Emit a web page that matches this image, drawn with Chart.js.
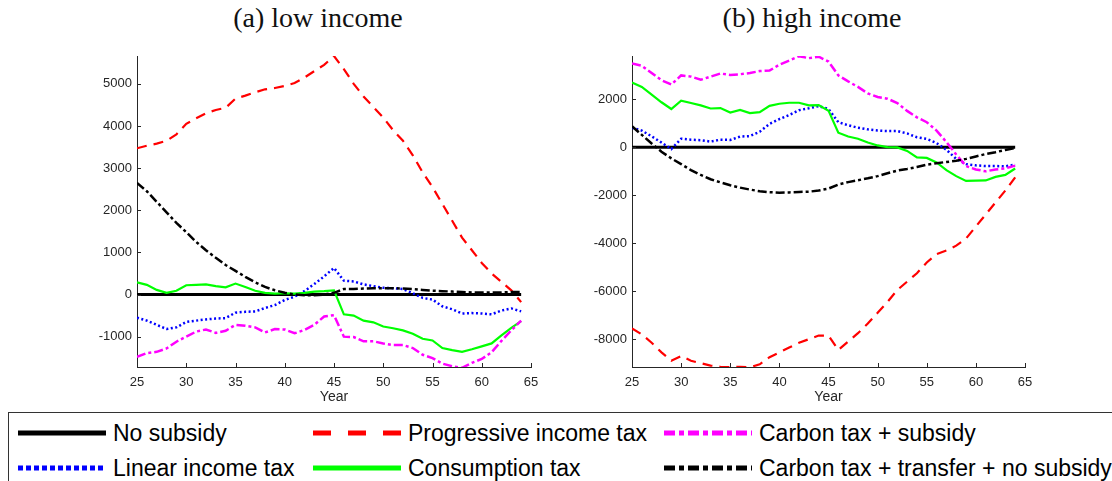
<!DOCTYPE html>
<html>
<head>
<meta charset="utf-8">
<script src="https://cdn.jsdelivr.net/npm/chart.js@4"></script>
<style>
  body { margin: 0; background: #fff; width: 1112px; height: 481px; overflow: hidden; position: relative; }
  .ttl { position: absolute; top: 2px; width: 400px; text-align: center; font-family: 'Liberation Serif', serif; font-size: 28px; color: #111; }
  canvas { position: absolute; top: 40px; }
  #legend { position: absolute; left: 8px; top: 412px; width: 1120px; height: 90px; border: 1px solid #333; box-sizing: border-box; font-family: 'Liberation Sans', Arial, sans-serif; font-size: 23px; color: #000; }
  .item { position: absolute; height: 26px; line-height: 26px; white-space: nowrap; }
  .item svg { position: absolute; left: 0; top: 0; }
  .item span { position: absolute; left: 95px; top: 0; }
</style>
</head>
<body>
<div class="ttl" style="left:118px">(a) low income</div>
<div class="ttl" style="left:612px">(b) high income</div>
<canvas id="lowChart" width="556" height="370" style="left:0"></canvas>
<canvas id="highChart" width="556" height="370" style="left:556px"></canvas>
<div id="legend"></div>

<script>
// data
const years = [25,26,27,28,29,30,31,32,33,34,35,36,37,38,39,40,41,42,43,44,45,46,47,48,49,50,51,52,53,54,55,56,57,58,59,60,61,62,63,64];
const xTicks = [25, 30, 35, 40, 45, 50, 55, 60, 65];
const lowTicks = [-1000, 0, 1000, 2000, 3000, 4000, 5000];
const highTicks = [-8000, -6000, -4000, -2000, 0, 2000];

const seriesNames = ['No subsidy', 'Linear income tax', 'Progressive income tax', 'Consumption tax', 'Carbon tax + subsidy', 'Carbon tax + transfer + no subsidy'];

const noSubsidy = [0,0,0,0,0,0,0,0,0,0,0,0,0,0,0,0,0,0,0,0,0,0,0,0,0,0,0,0,0,0,0,0,0,0,0,0,0,0,0,0];

// (a) low income
const lowLinear = [-550,-620,-720,-820,-780,-650,-620,-590,-570,-560,-430,-410,-400,-320,-250,-130,-50,80,250,430,630,330,310,240,200,160,150,130,30,-80,-120,-280,-350,-450,-440,-450,-470,-380,-330,-400];
const lowProgressive = [3470,3530,3580,3650,3800,4050,4180,4300,4380,4430,4650,4720,4800,4870,4900,4950,5020,5150,5300,5450,5660,5350,5000,4700,4450,4200,3900,3650,3300,2900,2550,2150,1750,1350,1050,750,500,300,100,-180];
const lowConsumption = [290,230,110,40,90,220,230,240,200,170,260,180,90,40,20,30,20,40,70,80,100,-470,-500,-620,-660,-760,-800,-850,-930,-1050,-1090,-1270,-1320,-1360,-1300,-1230,-1160,-970,-790,-630];
const lowCarbonSubsidy = [-1480,-1390,-1360,-1280,-1120,-1000,-880,-830,-910,-860,-720,-740,-780,-900,-820,-830,-920,-840,-720,-520,-490,-1000,-1010,-1110,-1110,-1160,-1200,-1200,-1270,-1430,-1510,-1640,-1700,-1740,-1620,-1530,-1370,-1100,-850,-620];
const lowCarbonTransfer = [2650,2450,2200,1950,1700,1480,1250,1050,870,700,560,420,290,180,100,40,0,-20,-20,0,40,130,130,140,150,150,150,140,130,110,90,80,70,60,50,50,50,50,60,60];

// (b) high income
const highLinear = [820,700,460,200,-70,360,320,300,240,320,310,450,470,650,980,1180,1350,1550,1630,1720,1600,1050,920,820,750,700,680,680,580,420,350,180,-100,-480,-700,-750,-780,-780,-790,-720];
const highProgressive = [-7550,-7800,-8150,-8550,-8900,-8700,-8900,-9000,-9100,-9150,-9170,-9150,-9170,-9050,-8750,-8550,-8350,-8150,-8000,-7850,-7850,-8450,-8100,-7750,-7350,-6900,-6450,-5950,-5600,-5250,-4800,-4450,-4300,-4100,-3800,-3300,-2800,-2300,-1800,-1250];
const highConsumption = [2700,2520,2200,1880,1600,1950,1850,1750,1620,1640,1450,1560,1430,1470,1730,1820,1860,1860,1750,1760,1530,610,450,360,200,80,10,0,-150,-420,-440,-630,-950,-1200,-1400,-1390,-1380,-1230,-1150,-880];
const highCarbonSubsidy = [3500,3400,3100,2800,2620,3000,2950,2820,2950,3080,3020,3050,3100,3180,3200,3450,3620,3800,3720,3780,3580,3000,2750,2520,2250,2100,2030,1850,1520,1250,1050,700,220,-300,-780,-920,-1000,-920,-880,-760];
const highCarbonTransfer = [880,520,160,-180,-460,-700,-950,-1150,-1330,-1460,-1580,-1680,-1760,-1830,-1870,-1890,-1880,-1860,-1850,-1800,-1720,-1550,-1450,-1370,-1290,-1200,-1080,-970,-900,-820,-720,-660,-610,-560,-480,-380,-280,-200,-110,-30];

// styles
const styles = [
  { color: '#000000', dash: [], width: 3, legDash: '', legW: 5 },
  { color: '#0000ff', dash: [2, 2.5], width: 2.5, legDash: '5 3', legW: 5 },
  { color: '#ff0000', dash: [10, 7], width: 2.2, legDash: '18 17', legW: 5 },
  { color: '#00ff00', dash: [], width: 2.2, legDash: '', legW: 5 },
  { color: '#ff00ff', dash: [9, 3, 3, 3], width: 2.5, legDash: '11 4 5 4', legW: 5 },
  { color: '#000000', dash: [9, 3, 3, 3], width: 2.5, legDash: '11 4 5 4', legW: 5 }
];

const axisColor = '#262626';
const tickFont = { family: 'Liberation Sans', size: 13 };

function toPoints(arr) {
  return years.map((y, i) => ({ x: y, y: arr[i] }));
}

function makeDatasets(list) {
  return list.map((arr, i) => ({
    label: seriesNames[i],
    data: toPoints(arr),
    borderColor: styles[i].color,
    borderWidth: styles[i].width,
    borderDash: styles[i].dash,
    pointRadius: 0,
    fill: false,
    tension: 0,
    order: 6 - i
  }));
}

// inward tick marks like matlab
const innerTicks = {
  id: 'innerTicks',
  afterDraw(chart) {
    const ctx = chart.ctx;
    const xs = chart.scales.x, ys = chart.scales.y;
    const a = chart.chartArea;
    ctx.save();
    ctx.strokeStyle = axisColor;
    ctx.lineWidth = 1;
    ctx.beginPath();
    xs.ticks.forEach(t => {
      const px = Math.round(xs.getPixelForValue(t.value)) + 0.5;
      ctx.moveTo(px, a.bottom);
      ctx.lineTo(px, a.bottom - 4);
    });
    ys.ticks.forEach(t => {
      const py = Math.round(ys.getPixelForValue(t.value)) + 0.5;
      ctx.moveTo(a.left, py);
      ctx.lineTo(a.left + 4, py);
    });
    ctx.stroke();
    ctx.restore();
  }
};

function makeChart(id, list, yMin, yMax, yTicks, yWidth, rightPad) {
  return new Chart(document.getElementById(id), {
    type: 'line',
    data: { datasets: makeDatasets(list) },
    options: {
      responsive: false,
      animation: false,
      layout: { padding: { top: 16, right: rightPad, left: 0, bottom: 0 } },
      plugins: { legend: { display: false }, tooltip: { enabled: false } },
      scales: {
        x: {
          type: 'linear',
          min: 25, max: 65,
          afterBuildTicks: s => { s.ticks = xTicks.map(v => ({ value: v })); },
          afterFit: s => { s.height = 43; },
          grid: { drawOnChartArea: false, drawTicks: false },
          border: { color: axisColor, width: 1 },
          ticks: { color: axisColor, font: tickFont, padding: 8, maxRotation: 0 },
          title: { display: true, text: 'Year', color: axisColor, font: { family: 'Liberation Sans', size: 14 }, padding: { top: 2, bottom: 4 } }
        },
        y: {
          min: yMin, max: yMax,
          afterBuildTicks: s => { s.ticks = yTicks.map(v => ({ value: v })); },
          afterFit: s => { s.width = yWidth; },
          grid: { drawOnChartArea: false, drawTicks: false },
          border: { color: axisColor, width: 1 },
          ticks: { color: axisColor, font: tickFont, padding: 5, callback: v => String(v) }
        }
      }
    },
    plugins: [innerTicks]
  });
}

makeChart('lowChart', [noSubsidy, lowLinear, lowProgressive, lowConsumption, lowCarbonSubsidy, lowCarbonTransfer], -1720, 5660, lowTicks, 137, 25);
makeChart('highChart', [noSubsidy, highLinear, highProgressive, highConsumption, highCarbonSubsidy, highCarbonTransfer], -9160, 3810, highTicks, 76, 87);

// legend
const legendPos = [
  { x: 9, y: 7 }, { x: 304, y: 7 }, { x: 655, y: 7 },
  { x: 9, y: 42 }, { x: 304, y: 42 }, { x: 655, y: 42 }
];
const legendOrder = [0, 2, 4, 1, 3, 5];
const legend = document.getElementById('legend');
legendOrder.forEach((si, k) => {
  const st = styles[si];
  const p = legendPos[k];
  const div = document.createElement('div');
  div.className = 'item';
  div.style.left = p.x + 'px';
  div.style.top = p.y + 'px';
  div.innerHTML = '<svg width="90" height="26"><line x1="0" y1="13" x2="88" y2="13" stroke="' + st.color +
    '" stroke-width="' + st.legW + '"' + (st.legDash ? ' stroke-dasharray="' + st.legDash + '"' : '') + '/></svg><span></span>';
  div.querySelector('span').textContent = seriesNames[si];
  legend.appendChild(div);
});
</script>
</body>
</html>
